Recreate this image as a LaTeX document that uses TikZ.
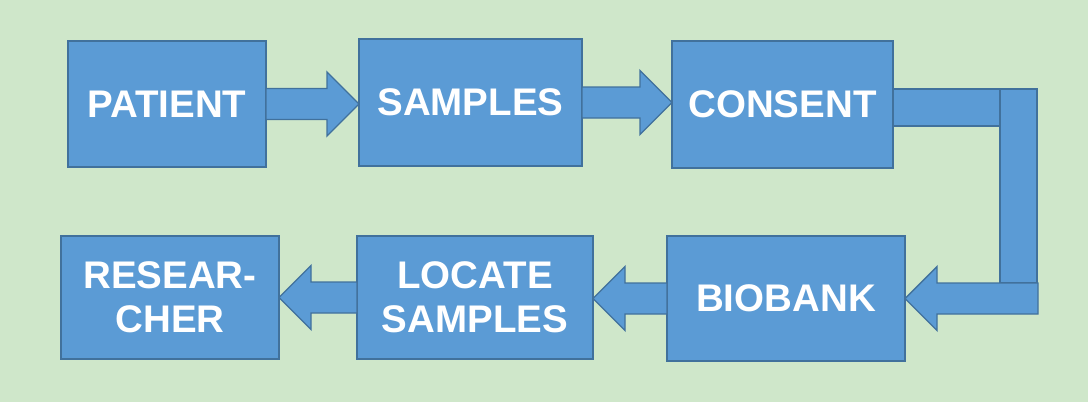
\documentclass[tikz,border=0pt]{standalone}
\usepackage{fontspec}
\setmainfont{Liberation Sans}
\usetikzlibrary{calc}
\definecolor{paper}{HTML}{CFE7CA}
\definecolor{boxfill}{HTML}{5B9BD5}
\definecolor{boxline}{HTML}{41719C}

% block arrows, pointing right / left, from one point to the tip
\newcommand\rblock[2]{\draw[blockarr] let \p1=(#1),\p2=(#2) in
  (\x1,\y1+15.5pt) -- (\x2-32pt,\y1+15.5pt) -- (\x2-32pt,\y1+32pt) -- (\x2,\y1)
  -- (\x2-32pt,\y1-32pt) -- (\x2-32pt,\y1-15.5pt) -- (\x1,\y1-15.5pt) -- cycle;}
\newcommand\lblock[2]{\draw[blockarr] let \p1=(#1),\p2=(#2) in
  (\x1,\y1+15.5pt) -- (\x2+32pt,\y1+15.5pt) -- (\x2+32pt,\y1+32pt) -- (\x2,\y1)
  -- (\x2+32pt,\y1-32pt) -- (\x2+32pt,\y1-15.5pt) -- (\x1,\y1-15.5pt) -- cycle;}

\begin{document}
\begin{tikzpicture}[x=1pt,y=-1pt,
    stagebox/.style={draw=boxline,fill=boxfill,line width=1.6pt,inner sep=0pt,outer sep=0pt,
      align=center,text=white,font=\fontsize{38.5}{44.4}\selectfont\bfseries},
    blockarr/.style={draw=boxline,fill=boxfill,line width=1.4pt,line join=miter}]
  \fill[paper] (0,0) rectangle (1088,402);
  \node[stagebox,minimum width=198pt,minimum height=126pt] (pat) at (167,104) {PATIENT};
  \node[stagebox,minimum width=223pt,minimum height=127pt] (samp) at (470.5,102.5) {SAMPLES};
  \node[stagebox,minimum width=221pt,minimum height=127pt] (cons) at (782.5,104.5) {CONSENT};
  \node[stagebox,minimum width=238pt,minimum height=125pt] (bio) at (786,298.5) {BIOBANK};
  \node[stagebox,minimum width=236pt,minimum height=123pt] (loc) at (475,297.5) {LOCATE\\SAMPLES};
  \node[stagebox,minimum width=218pt,minimum height=123pt] (res) at (170,297.5) {RESEAR-\\CHER};
  \rblock{pat.east}{samp.west}
  \rblock{samp.east}{cons.west}
  % bent arrow round the right side
  \coordinate (bendtop) at (1000,89);
  \coordinate (bendfoot) at (1037,283);
  \coordinate (foot) at (1038,298.5);
  \draw[blockarr] (cons.east |- bendtop) rectangle (1000,126);
  \draw[blockarr] (bendtop) rectangle (bendfoot);
  \lblock{foot}{bio.east}
  \lblock{bio.west}{loc.east}
  \lblock{loc.west}{res.east}
\end{tikzpicture}
\end{document}
